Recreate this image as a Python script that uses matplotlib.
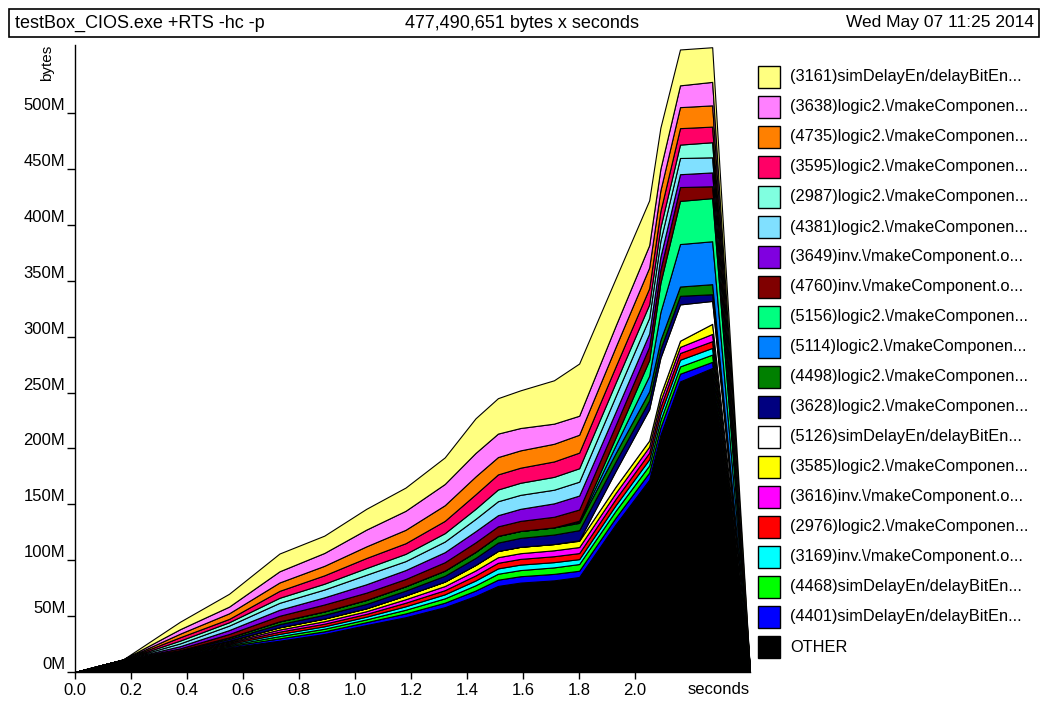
import matplotlib
matplotlib.use("Agg")
import matplotlib.pyplot as plt
from matplotlib.patches import Rectangle
from matplotlib.ticker import FuncFormatter

plt.rcParams['font.family'] = ['Liberation Sans', 'DejaVu Sans']

W, H = 1045, 704

# sample times (seconds)
times = [0, 0.17, 0.375, 0.55, 0.73, 0.89, 1.04, 1.18, 1.32, 1.43, 1.51,
         1.59, 1.71, 1.8, 1.93, 2.05, 2.09, 2.16, 2.275, 2.41]

# band sizes in MB, bottom of the stack first
other     = [0, 11, 17, 22, 28, 34, 42, 49, 58, 68, 77, 80, 82, 85, 132, 172, 212, 260, 272, 0]
cc_4401   = [0, 0, 0.2, 1.1, 2.1, 2.4, 2.6, 3.4, 4.0, 4.9, 5.6, 5.7, 5.8, 5.6, 6.0, 6.5, 6.8, 6.9, 5.5, 0]
cc_4468   = [0, 0, 0.2, 1.0, 2.0, 2.3, 2.5, 3.3, 3.9, 4.7, 5.3, 5.5, 5.8, 6.0, 6.2, 6.3, 6.4, 6.5, 6.5, 0]
cc_3169   = [0, 0, 0.2, 1.0, 2.0, 2.2, 2.4, 3.1, 3.6, 4.3, 4.8, 4.9, 4.7, 4.4, 5.0, 5.5, 5.8, 6.0, 6.0, 0]
cc_2976   = [0, 0, 0.2, 1.0, 2.0, 2.3, 2.5, 3.2, 3.7, 4.5, 5.0, 5.1, 5.3, 5.4, 5.6, 5.8, 6.0, 6.0, 6.0, 0]
cc_3616   = [0, 0, 0.2, 0.9, 1.9, 2.2, 2.4, 3.1, 3.7, 4.5, 5.0, 5.1, 5.3, 5.4, 5.4, 5.5, 5.5, 5.5, 6.5, 0]
cc_3585   = [0, 0, 0.2, 1.0, 2.0, 2.4, 2.6, 3.4, 4.0, 4.9, 5.6, 5.7, 5.6, 5.6, 5.6, 5.5, 5.5, 5.5, 9.0, 0]
cc_5126   = [0, 0, 0, 0, 0, 0, 0, 0, 0, 0, 0, 0, 0, 0.5, 14, 28, 33, 32.5, 20.5, 0]
cc_3628   = [0, 0, 0.8, 1.6, 2.8, 3.4, 3.9, 4.3, 5.2, 6.3, 7.5, 8.0, 8.5, 9.0, 8.5, 8.0, 8.0, 7.7, 6.0, 0]
cc_4498   = [0, 0, 0.6, 1.4, 2.5, 3.0, 3.6, 3.9, 4.6, 5.4, 6.0, 6.2, 6.4, 6.5, 7.5, 8.0, 8.0, 8.3, 9.0, 0]
cc_5114   = [0, 0, 0, 0, 0, 0, 0, 0, 0, 0, 0, 0, 0, 1, 7, 14, 25, 38, 38.4, 0]
cc_5156   = [0, 0, 0, 0, 0, 0, 0, 0, 0, 0, 0, 0, 0, 1, 7, 14, 26, 38.6, 38.6, 0]
cc_4760   = [0, 0, 1.5, 3.0, 5.0, 6.2, 6.5, 6.5, 7.5, 8.5, 8.5, 9.0, 9.5, 10, 11, 12, 12, 12.4, 10.6, 0]
cc_3649   = [0, 0, 2.0, 3.5, 5.4, 6.4, 7.5, 8.0, 9.0, 10, 10, 10.8, 12, 12.5, 12, 11.8, 11.5, 11.5, 12.4, 0]
cc_4381   = [0, 0, 2.5, 4.0, 6.2, 7.0, 8.5, 8.0, 9.5, 11, 12.5, 12.5, 12.2, 12.4, 14, 14, 14.3, 14.5, 13.5, 0]
cc_2987   = [0, 0, 2.5, 3.0, 4.5, 5.2, 6.0, 6.5, 7.5, 9.0, 10.5, 10.8, 11.5, 12, 12, 12, 12, 12, 13.5, 0]
cc_3595   = [0, 0, 3.0, 3.0, 6.2, 7.5, 9.0, 9.5, 11, 13, 13.5, 13.5, 13.8, 14, 14.5, 14.5, 14.6, 14.7, 14, 0]
cc_4735   = [0, 0, 3.2, 5.0, 7.5, 8.5, 10.4, 12, 14, 16, 15.5, 15.5, 15.8, 16, 17.5, 18.5, 18.5, 18.8, 19, 0]
cc_3638   = [0, 0, 4.0, 6.0, 10, 11.5, 15, 17, 19, 21, 21, 20, 18, 17, 19, 20, 19.3, 19.5, 21, 0]
cc_3161   = [0, 0, 6.7, 11.5, 15.9, 15.5, 18.6, 20.8, 23.8, 31, 31.7, 33.7, 38.8, 46.7, 42.2, 40.1, 36.8, 32.1, 31, 0]

labels = ["OTHER",
          "(4401)simDelayEn/delayBitEn...",
          "(4468)simDelayEn/delayBitEn...",
          "(3169)inv.\\/makeComponent.o...",
          "(2976)logic2.\\/makeComponen...",
          "(3616)inv.\\/makeComponent.o...",
          "(3585)logic2.\\/makeComponen...",
          "(5126)simDelayEn/delayBitEn...",
          "(3628)logic2.\\/makeComponen...",
          "(4498)logic2.\\/makeComponen...",
          "(5114)logic2.\\/makeComponen...",
          "(5156)logic2.\\/makeComponen...",
          "(4760)inv.\\/makeComponent.o...",
          "(3649)inv.\\/makeComponent.o...",
          "(4381)logic2.\\/makeComponen...",
          "(2987)logic2.\\/makeComponen...",
          "(3595)logic2.\\/makeComponen...",
          "(4735)logic2.\\/makeComponen...",
          "(3638)logic2.\\/makeComponen...",
          "(3161)simDelayEn/delayBitEn..."]

colors = ["#000000", "#0000ff", "#00ff00", "#00ffff", "#ff0000", "#ff00ff",
          "#ffff00", "#ffffff", "#000080", "#008000", "#0080ff", "#00ff80",
          "#800000", "#8000e0", "#80e0ff", "#80ffe0", "#ff0066", "#ff8000",
          "#ff80ff", "#ffff80"]

series = [other, cc_4401, cc_4468, cc_3169, cc_2976, cc_3616, cc_3585, cc_5126,
          cc_3628, cc_4498, cc_5114, cc_5156, cc_4760, cc_3649, cc_4381, cc_2987,
          cc_3595, cc_4735, cc_3638, cc_3161]

fig = plt.figure(figsize=(W / 100, H / 100), dpi=100)

# header box
fig.patches.append(Rectangle((9 / W, 1 - 37 / H), 1030 / W, 28 / H,
                             transform=fig.transFigure, fill=False,
                             edgecolor="black", linewidth=1.2))
fig.text(15 / W, 1 - 23 / H, "testBox_CIOS.exe +RTS -hc -p", fontsize=13, va="center")
fig.text(522 / W, 1 - 23 / H, "477,490,651 bytes x seconds", fontsize=13,
         va="center", ha="center")
fig.text(1034 / W, 1 - 23 / H, "Wed May 07 11:25 2014", fontsize=12.5,
         va="center", ha="right")

ax = fig.add_axes([75 / W, 1 - 672 / H, 675 / W, 627 / H])
ax.stackplot(times, *series, colors=colors, edgecolor="black", linewidth=0.8)
ax.set_xlim(0, 2.41)
ax.set_ylim(0, 561)

for s in ["top", "right"]:
    ax.spines[s].set_visible(False)
ax.spines["left"].set_linewidth(1)
ax.spines["bottom"].set_linewidth(1)

ax.set_xticks([0, 0.2, 0.4, 0.6, 0.8, 1.0, 1.2, 1.4, 1.6, 1.8, 2.0])
ax.xaxis.set_major_formatter(FuncFormatter(lambda v, p: f"{v:.1f}"))
ax.set_yticks(range(0, 501, 50))
ax.yaxis.set_major_formatter(FuncFormatter(lambda v, p: f"{int(v)}M"))
ax.tick_params(axis="x", length=5, width=1, pad=3, labelsize=12)
ax.tick_params(axis="y", length=6, width=1, pad=1, labelsize=12)
for t in ax.yaxis.get_major_ticks():
    t.label1.set_verticalalignment("bottom")

fig.text(719 / W, 1 - 690 / H, "seconds", fontsize=12, ha="center", va="center")
fig.text(47 / W, 1 - 63 / H, "bytes", fontsize=11, ha="center", va="center",
         rotation=90)

# key
for i, (lab, col) in enumerate(zip(labels[::-1], colors[::-1])):
    yc = 77 + i * 30
    fig.patches.append(Rectangle((758 / W, 1 - (yc + 11) / H), 22 / W, 22 / H,
                                 transform=fig.transFigure, facecolor=col,
                                 edgecolor="black", linewidth=1))
    fig.text(790 / W, 1 - yc / H, lab, fontsize=11.8, va="center")

fig.savefig("out.png", dpi=100)
